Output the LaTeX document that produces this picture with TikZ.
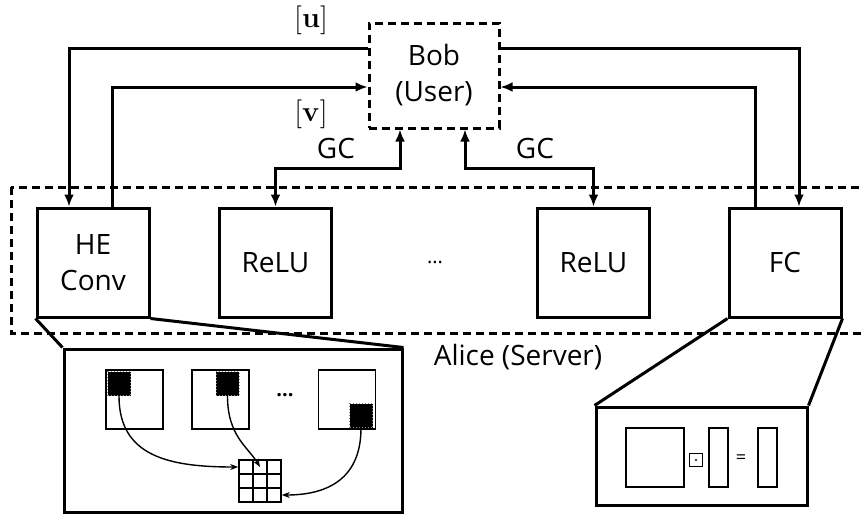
\documentclass[tikz,border=0pt]{standalone}
\usepackage[no-math]{fontspec}
\setmainfont{Open Sans}
\usetikzlibrary{arrows.meta,calc}

\begin{document}
\begin{tikzpicture}[x=.5pt,y=-.5pt,
  txt/.style={font=\fontsize{14}{18}\selectfont},
  layer/.style={txt,draw,line width=1.5pt,minimum width=56pt,minimum height=54.5pt,align=center},
  party/.style={draw,line width=1.5pt,dash pattern=on 4pt off 2.5pt},
  link/.style={line width=1.5pt,-{Latex[length=6pt,width=5pt]}},
  both/.style={line width=1.5pt,{Latex[length=6pt,width=5pt]}-{Latex[length=6pt,width=5pt]}},
  zoombox/.style={draw,line width=1.5pt,inner sep=0},
  fmap/.style={draw,line width=.8pt,inner sep=0},
  patch/.style={fill=black,draw=black!45,densely dotted,line width=.5pt,minimum width=11.5pt,minimum height=12pt,inner sep=0},
  fetch/.style={line width=.7pt,-{Stealth[length=4pt,width=3pt]}}]
  \useasboundingbox (0,0) rectangle (863,515);

  % parties
  \node[party,txt,align=center,minimum width=65pt,minimum height=52.5pt] (bob) at (434,75.5) {Bob\\(User)};
  \draw[party] (11,187) rectangle (900,333);
  \node[txt] (alice) at (518,357) {Alice (Server)};

  % network layers
  \node[layer] (heconv) at (93,262.5) {HE\\Conv};
  \node[layer] (relu1) at (275.5,262.5) {ReLU};
  \node[layer] (relu2) at (593.5,262.5) {ReLU};
  \node[layer] (fc) at (785,262.5) {FC};
  \node[font=\fontsize{10}{12}\selectfont] (ldots) at (435,262) {...};

  % shares exchanged with Bob
  \draw[link] ([yshift=13.75pt]bob.west) -| ([xshift=-12pt]heconv.north);
  \draw[link] ([xshift=9.5pt]heconv.north) |- ([yshift=-5.75pt]bob.west);
  \draw[link] ([yshift=13.75pt]bob.east) -| ([xshift=7pt]fc.north);
  \draw[link] ([xshift=-15pt]fc.north) |- ([yshift=-5.75pt]bob.east);
  \draw[both] ([xshift=-17pt]bob.south) -- ++(0pt,-19.5pt) -| (relu1.north);
  \draw[both] ([xshift=15.5pt]bob.south) -- ++(0pt,-19.5pt) -| (relu2.north);
  \node[txt] (ulab) at (311,20) {$[\mathbf{u}]$};
  \node[txt] (vlab) at (311,114) {$[\mathbf{v}]$};
  \node[txt] (gc1) at (336,148) {GC};
  \node[txt] (gc2) at (535,148) {GC};

  % convolution close-up
  \node[zoombox,minimum width=169pt,minimum height=81.5pt] (convzoom) at (233,430.5) {};
  \draw[line width=1.5pt] (heconv.south west) -- (convzoom.north west)
    (heconv.south east) -- (convzoom.north east);
  \node[fmap,minimum width=28.5pt,minimum height=29.5pt] (fm1) at (134.5,399.5) {};
  \node[fmap,minimum width=28.5pt,minimum height=29.5pt] (fm2) at (220.5,399.5) {};
  \node[fmap,minimum width=28.5pt,minimum height=29.5pt] (fm3) at (347,399.5) {};
  \node[patch] (p1) at (119,383.5) {};
  \node[patch] (p2) at (227.5,383.5) {};
  \node[patch] (p3) at (361,415.5) {};
  \node[font=\bfseries\fontsize{10}{12}\selectfont] (fdots) at (285,395) {...};
  \node[fmap,minimum size=21pt] (grid) at (260,481) {};
  \foreach \k in {1,2}{
    \draw[line width=.8pt] ($(grid.north west)!\k/3!(grid.north east)$) -- ($(grid.south west)!\k/3!(grid.south east)$);
    \draw[line width=.8pt] ($(grid.north west)!\k/3!(grid.south west)$) -- ($(grid.north east)!\k/3!(grid.south east)$);
  }
  \draw[fetch] (p1.south) .. controls +(0,60) and +(-70,0) .. ([yshift=7pt]grid.west);
  \draw[fetch] (p2.south) .. controls +(0,40) and +(-12,-20) .. ([yshift=7pt]grid.center);
  \draw[fetch] (p3.south) .. controls +(0,55) and +(40,0) .. ([yshift=-7pt]grid.east);

  % fully connected close-up
  \node[zoombox,minimum width=105.5pt,minimum height=49pt] (fczoom) at (701.5,456) {};
  \draw[line width=1.5pt] (fc.south west) -- (fczoom.north west)
    (fc.south east) -- (fczoom.north east);
  \node[fmap,minimum width=29pt,minimum height=29.5pt] (weights) at (655,457.5) {};
  \node[fmap,line width=.6pt,minimum size=6.5pt] (odot) at (696,460) {};
  \fill (odot.center) circle (.6pt);
  \node[fmap,minimum width=9.5pt,minimum height=29.5pt] (vin) at (718.5,457.5) {};
  \node[font=\fontsize{9}{10}\selectfont] (eq) at (741,459) {=};
  \node[fmap,minimum width=9.5pt,minimum height=29.5pt] (vout) at (767.5,457.5) {};
\end{tikzpicture}
\end{document}
